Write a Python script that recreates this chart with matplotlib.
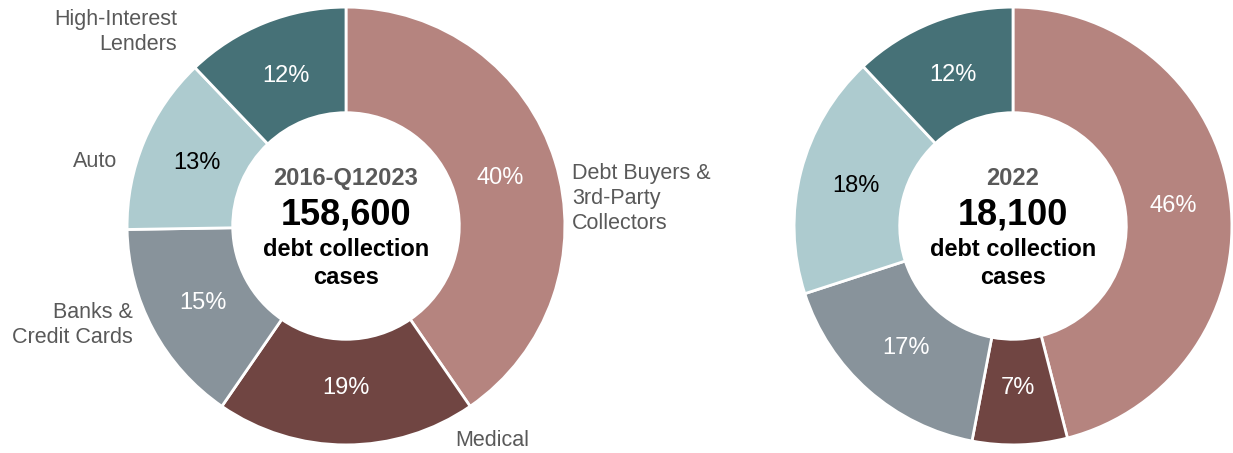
import matplotlib
matplotlib.use("Agg")
import matplotlib.pyplot as plt

plt.rcParams['font.family'] = ['Liberation Sans', 'DejaVu Sans']

categories = ["Debt Buyers &\n3rd-Party\nCollectors", "Medical", "Banks &\nCredit Cards",
              "Auto", "High-Interest\nLenders"]
colors = ["#B5847F", "#704542", "#88939B", "#ADCBCF", "#467177"]
pct_colors = ["white", "white", "white", "black", "white"]

share_all = [40, 19, 15, 13, 12]
share_2022 = [46, 7, 17, 18, 12]

period_all = "2016-Q12023"
total_all = "158,600"
period_2022 = "2022"
total_2022 = "18,100"

W, H = 1233, 453
fig = plt.figure(figsize=(W / 100, H / 100), dpi=100)


def donut(cx, cy, values, period, total):
    half = 220
    ax = fig.add_axes([(cx - half) / W, (H - cy - half) / H, 2 * half / W, 2 * half / H])
    wedges, _, autotexts = ax.pie(values, colors=colors, startangle=90, counterclock=False,
                                  radius=0.995, autopct=lambda p: "%d%%" % round(p),
                                  pctdistance=0.74,
                                  wedgeprops=dict(width=0.48, edgecolor="white", linewidth=2))
    for t, c in zip(autotexts, pct_colors):
        t.set_color(c)
        t.set_fontsize(17)
    ax.set_xlim(-1, 1)
    ax.set_ylim(-1, 1)
    ax.set_aspect("equal")
    ax.axis("off")
    ax.text(0, 0.218, period, ha="center", va="center", fontsize=17, fontweight="bold", color="#595959")
    ax.text(0, 0.05, total, ha="center", va="center", fontsize=26, fontweight="bold", color="black")
    ax.text(0, -0.109, "debt collection", ha="center", va="center", fontsize=17, fontweight="bold")
    ax.text(0, -0.236, "cases", ha="center", va="center", fontsize=17, fontweight="bold")
    return ax


ax1 = donut(346, 226, share_all, period_all, total_all)
ax2 = donut(1013, 226, share_2022, period_2022, total_2022)

# category labels around the left donut
label_pos = [(1.027, 0.123, "left"), (0.495, -0.977, "left"), (-0.968, -0.45, "right"),
             (-1.041, 0.291, "right"), (-0.768, 0.882, "right")]
for name, (x, y, ha) in zip(categories, label_pos):
    ax1.text(x, y, name, ha=ha, va="center", multialignment=ha, fontsize=15.5,
             color="#595959", linespacing=1.25)

fig.savefig("out.png", dpi=100)
